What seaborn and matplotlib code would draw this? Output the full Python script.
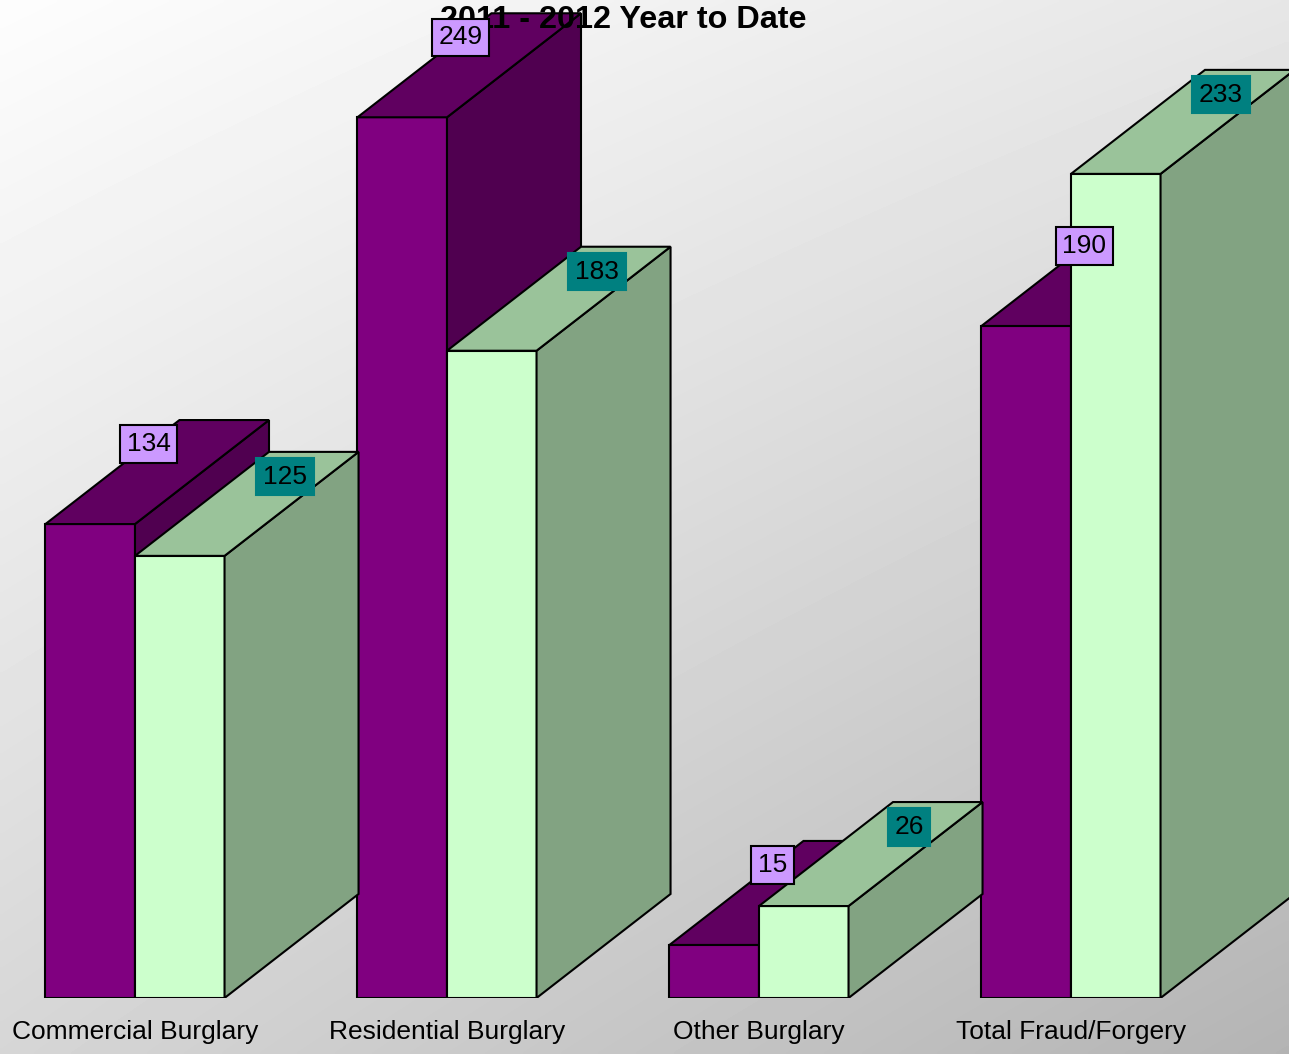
"""2011 - 2012 year to date burglary / fraud counts,
drawn as pseudo-3D bars (seaborn fronts + polygon tops and sides).
"""
import numpy as np
import pandas as pd

import seaborn as sns
import matplotlib
matplotlib.use("Agg")
import matplotlib.pyplot as plt
from matplotlib.patches import Polygon

plt.rcParams["font.family"] = ["Liberation Sans", "DejaVu Sans"]


############################## Data.

categories = ["Commercial Burglary", "Residential Burglary",
              "Other Burglary", "Total Fraud/Forgery"]
periods = ["2011", "2012"]
counts_2011 = [134, 249, 15, 190]
counts_2012 = [125, 183, 26, 233]

df = pd.DataFrame({
    "category": categories * 2,
    "period": [periods[0]] * len(categories) + [periods[1]] * len(categories),
    "count": counts_2011 + counts_2012,
})


############################## Style.

W_PX, H_PX, DPI = 1289, 1054, 100
FRONT = ["#800080", "#ccffcc"]
TOP = ["#600060", "#9ac39a"]
SIDE = ["#500050", "#82a382"]
LABEL_FC = ["#cc99ff", "#008080"]
LABEL_EC = ["black", "#008080"]
LABEL_OFFSET_PX = [(103, 80), (150, 79)]   # from bar's front-top-left corner
DEPTH_PX = (134, 104)
EDGE_LW = 1.5

# background corners: top-left, top-right, bottom-left, bottom-right
BG = dict(tl=253, tr=230, bl=214, br=180)

XLIM = (-135 / 312, (W_PX - 135) / 312)
YLIM = (0, 998 / 3.537)
AX_BOTTOM = (H_PX - 998) / H_PX


############################## Plot it.

fig = plt.figure(figsize=(W_PX / DPI, H_PX / DPI), dpi=DPI)

# gradient background
bg_ax = fig.add_axes([0, 0, 1, 1], zorder=-1)
u = np.linspace(0, 1, 300)[None, :]
v = np.linspace(0, 1, 300)[:, None]
grad = (BG["tl"] * (1 - u) * (1 - v) + BG["tr"] * u * (1 - v)
        + BG["bl"] * (1 - u) * v + BG["br"] * u * v)
bg_ax.imshow(grad, cmap="gray", vmin=0, vmax=255, aspect="auto",
             extent=(0, 1, 0, 1), interpolation="bilinear")
bg_ax.axis("off")

ax = fig.add_axes([0, AX_BOTTOM, 1, 1 - AX_BOTTOM])
ax.set_facecolor("none")

sns.barplot(data=df, x="category", y="count", hue="period",
            order=categories, hue_order=periods,
            palette=FRONT, saturation=1, width=0.574, gap=0,
            edgecolor="black", linewidth=EDGE_LW,
            legend=False, ax=ax)

ax.set_xlim(*XLIM)
ax.set_ylim(*YLIM)

# depth in data units
dx = DEPTH_PX[0] / (ax.bbox.width / (XLIM[1] - XLIM[0]))
dy = DEPTH_PX[1] / (ax.bbox.height / (YLIM[1] - YLIM[0]))

for i, container in enumerate(ax.containers):
    z = 2 + i
    for bar, value in zip(container.patches, container.datavalues):
        bar.set_zorder(z)
        x, w, h = bar.get_x(), bar.get_width(), bar.get_height()
        top = [(x, h), (x + w, h), (x + w + dx, h + dy), (x + dx, h + dy)]
        side = [(x + w, 0), (x + w + dx, dy), (x + w + dx, h + dy), (x + w, h)]
        for verts, color in [(side, SIDE[i]), (top, TOP[i])]:
            ax.add_patch(Polygon(verts, closed=True, facecolor=color,
                                 edgecolor="black", linewidth=EDGE_LW,
                                 joinstyle="miter", zorder=z))
        ax.annotate(f"{value:.0f}", xy=(x, h),
                    xytext=LABEL_OFFSET_PX[i], textcoords="offset pixels",
                    ha="center", va="center", fontsize=19, color="black",
                    zorder=6, annotation_clip=False,
                    bbox=dict(boxstyle="square,pad=0.25", fc=LABEL_FC[i],
                              ec=LABEL_EC[i], lw=EDGE_LW))

# title sits over the bars but under the value labels
ax.text(623.5 / W_PX, 1 - 20 / H_PX, "2011 - 2012 Year to Date",
        transform=fig.transFigure, ha="center", va="center",
        fontsize=23.3, fontweight="bold", zorder=5)

# a e s t h e t i c s
ax.set_xlabel("")
ax.set_ylabel("")
ax.set_yticks([])
ax.tick_params(axis="x", length=0, pad=15.5, labelsize=19)
for spine in ax.spines.values():
    spine.set_visible(False)

plt.savefig("out.png", dpi=DPI)
plt.close()
